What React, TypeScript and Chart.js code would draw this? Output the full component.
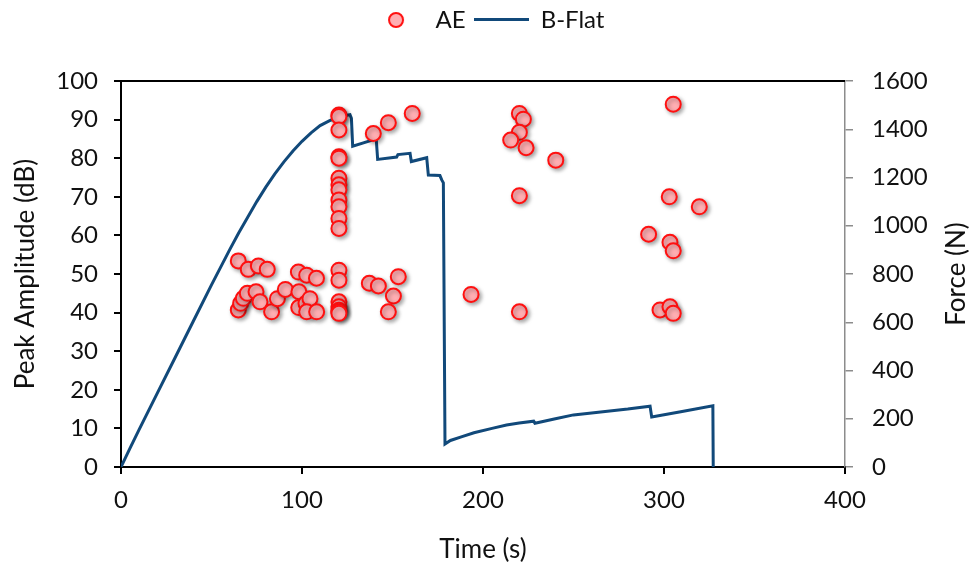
import React, { useEffect, useRef } from 'react';
import { Chart, registerables } from 'chart.js';

Chart.register(...registerables);

// ---- Data ----
const aeTime = [
  64.8, 70.3, 75.9, 80.8, 98.0, 102.6, 108.0,
  64.8, 66.1, 67.6, 69.8, 74.6, 76.8, 83.2, 86.4, 90.8, 98.3, 98.2, 102.2, 104.4, 102.6, 108.1,
  120.4, 120.4, 120.4, 120.4, 120.4, 120.4, 120.4, 120.4, 120.4, 120.4, 120.4, 120.4, 120.4, 120.4, 120.4, 120.4, 120.4, 120.4, 120.4,
  139.4, 147.7, 160.9, 137.2, 142.2, 153.2, 150.5, 147.7,
  193.4, 220.1, 222.3, 220.1, 215.3, 223.8, 240.2, 220.1, 220.1,
  305.1, 302.9, 319.5, 291.5, 303.3, 305.1, 297.8, 303.3, 305.1,
];
const aeAmp = [
  53.4, 51.2, 52.1, 51.2, 50.5, 49.7, 48.9,
  40.7, 42.4, 43.7, 45.0, 45.4, 42.8, 40.2, 43.6, 46.0, 45.4, 41.3, 42.4, 43.6, 40.2, 40.2,
  91.2, 90.8, 87.3, 80.4, 80.0, 74.8, 73.1, 71.8, 69.2, 67.4, 64.4, 61.8, 51.0, 48.4, 42.8, 41.5, 40.6, 40.2, 39.8,
  86.4, 89.2, 91.6, 47.6, 46.9, 49.3, 44.3, 40.2,
  44.7, 91.6, 90.1, 86.7, 84.7, 82.7, 79.5, 70.3, 40.2,
  94.0, 70.0, 67.4, 60.3, 58.2, 56.0, 40.7, 41.5, 39.8,
];

const forceTime = [
  0, 5, 10, 20, 30, 40, 50, 60, 65, 70, 75, 80, 85, 90, 95, 100, 105, 110, 115, 120, 124, 126.5,
  127.3, 128.0, 141.0, 141.8, 152.3, 153.0, 159.7, 160.4, 168.9, 169.8, 176.2, 177.2, 178.1,
  179.0, 182, 188, 195, 205, 213, 220, 228.0, 228.7, 240, 250, 265, 280, 292.3, 293.2, 310, 327.0, 327.2,
];
const forceN = [
  0, 78, 155, 305, 455, 605, 755, 900, 970, 1035, 1100, 1160, 1215, 1265, 1310, 1350, 1385, 1415, 1435, 1450, 1457, 1460,
  1445, 1330, 1360, 1275, 1285, 1295, 1300, 1266, 1282, 1210, 1208, 1190, 1178,
  95, 110, 125, 142, 160, 174, 182, 190, 181, 200, 216, 228, 240, 252, 207, 230, 254, 0,
];

const timeTicks = [0, 100, 200, 300, 400];
const ampTicks = [0, 10, 20, 30, 40, 50, 60, 70, 80, 90, 100];
const forceTicks = [0, 200, 400, 600, 800, 1000, 1200, 1400, 1600];

const seriesNames = ['AE', 'B-Flat'];
const axisTitles = { x: 'Time (s)', y: 'Peak Amplitude (dB)', y2: 'Force (N)' };

// ---- Styles ----
const FONT = 'Lato';
const TEXT = '#111111';
const LINE_COLOR = '#11497a';
const PT_FILL = '#ffaeb2';
const PT_BORDER = '#ff1010';

function makeCircleIcon() {
  const c = document.createElement('canvas');
  c.width = 18; c.height = 18;
  const g = c.getContext('2d')!;
  g.beginPath();
  g.arc(9, 9, 7, 0, Math.PI * 2);
  g.fillStyle = PT_FILL;
  g.fill();
  g.lineWidth = 2;
  g.strokeStyle = PT_BORDER;
  g.stroke();
  return c;
}
function makeLineIcon() {
  const c = document.createElement('canvas');
  c.width = 55; c.height = 4;
  const g = c.getContext('2d')!;
  g.fillStyle = LINE_COLOR;
  g.fillRect(0, 0, 55, 3);
  return c;
}

export default function App() {
  const ref = useRef<HTMLCanvasElement>(null);

  useEffect(() => {
    const circleIcon = makeCircleIcon();
    const lineIcon = makeLineIcon();

    const framePlugin = {
      id: 'frame',
      beforeLayout(chart: any) {
        const lg = chart.legend;
        if (lg && !lg.__patched) {
          const orig = lg.fit.bind(lg);
          lg.fit = () => { orig(); lg.height = 81; };
          lg.__patched = true;
        }
      },
      beforeDatasetDraw(chart: any, args: any) {
        if (args.index === 0) {
          const ctx = chart.ctx;
          ctx.save();
          ctx.shadowColor = 'rgba(0,0,0,0.35)';
          ctx.shadowBlur = 4;
          ctx.shadowOffsetX = 2;
          ctx.shadowOffsetY = 2;
        }
      },
      afterDatasetDraw(chart: any, args: any) {
        if (args.index === 0) chart.ctx.restore();
      },
      afterDraw(chart: any) {
        const { ctx, chartArea } = chart;
        ctx.save();
        ctx.strokeStyle = '#000';
        ctx.lineWidth = 2;
        ctx.beginPath();
        ctx.moveTo(chartArea.left - 1, chartArea.top);
        ctx.lineTo(chartArea.right, chartArea.top);
        ctx.stroke();
        // right axis title, reading bottom-to-top
        ctx.translate(957, (chartArea.top + chartArea.bottom) / 2);
        ctx.rotate(-Math.PI / 2);
        ctx.font = `26px ${FONT}`;
        ctx.fillStyle = TEXT;
        ctx.textAlign = 'center';
        ctx.textBaseline = 'middle';
        ctx.fillText(axisTitles.y2, 0, 0);
        ctx.restore();
      },
    };

    const chart = new Chart(ref.current!, {
      type: 'scatter',
      data: {
        datasets: [
          {
            type: 'scatter',
            label: seriesNames[0],
            data: aeTime.map((t, i) => ({ x: t, y: aeAmp[i] })),
            yAxisID: 'y',
            pointRadius: 7.5,
            pointHoverRadius: 7.5,
            pointStyle: 'circle',
            backgroundColor: PT_FILL,
            borderColor: PT_BORDER,
            borderWidth: 2,
          } as any,
          {
            type: 'line',
            label: seriesNames[1],
            data: forceTime.map((t, i) => ({ x: t, y: forceN[i] })),
            yAxisID: 'y2',
            borderColor: LINE_COLOR,
            backgroundColor: LINE_COLOR,
            borderWidth: 3,
            pointRadius: 0,
            pointHoverRadius: 0,
            tension: 0,
            fill: false,
            showLine: true,
          } as any,
        ],
      },
      options: {
        responsive: false,
        animation: false,
        devicePixelRatio: 1,
        layout: { padding: 0 },
        plugins: {
          tooltip: { enabled: false },
          legend: {
            display: true,
            position: 'top',
            labels: {
              usePointStyle: true,
              pointStyleWidth: 55,
              boxHeight: 10,
              padding: 8,
              color: TEXT,
              font: { family: FONT, size: 24 },
              generateLabels: (ch: any) =>
                ch.data.datasets.map((ds: any, i: number) => ({
                  text: ds.label,
                  datasetIndex: i,
                  pointStyle: i === 0 ? circleIcon : lineIcon,
                  fillStyle: ds.backgroundColor,
                  strokeStyle: ds.borderColor,
                  lineWidth: 0,
                  hidden: false,
                  fontColor: TEXT,
                })),
            },
          },
        },
        scales: {
          x: {
            type: 'linear',
            position: 'bottom',
            min: 0,
            max: 400,
            afterBuildTicks: (s: any) => { s.ticks = timeTicks.map((v) => ({ value: v })); },
            afterFit: (s: any) => { s.height = 100; },
            grid: { drawOnChartArea: false, drawTicks: true, tickLength: 7, color: '#000', lineWidth: 2 },
            border: { display: true, color: '#000', width: 2 },
            ticks: { color: TEXT, padding: 12, font: { family: FONT, size: 24 }, callback: (v: any) => String(v), maxRotation: 0 },
            title: { display: true, text: axisTitles.x, color: TEXT, font: { family: FONT, size: 26 }, padding: { top: 0, bottom: 2 } },
          },
          y: {
            type: 'linear',
            position: 'left',
            min: 0,
            max: 100,
            afterBuildTicks: (s: any) => { s.ticks = ampTicks.map((v) => ({ value: v })); },
            afterFit: (s: any) => { s.width = 121; },
            grid: { drawOnChartArea: false, drawTicks: true, tickLength: 7, color: '#000', lineWidth: 2 },
            border: { display: true, color: '#000', width: 2 },
            ticks: { color: TEXT, padding: 16, font: { family: FONT, size: 24 }, callback: (v: any) => String(v) },
            title: { display: true, text: axisTitles.y, color: TEXT, font: { family: FONT, size: 26 }, padding: { top: 10, bottom: 0 } },
          },
          y2: {
            type: 'linear',
            position: 'right',
            min: 0,
            max: 1600,
            afterBuildTicks: (s: any) => { s.ticks = forceTicks.map((v) => ({ value: v })); },
            afterFit: (s: any) => { s.width = 128; },
            grid: { drawOnChartArea: false, drawTicks: true, tickLength: 8, color: '#8c8c8c', lineWidth: 1.5 },
            border: { display: true, color: '#8c8c8c', width: 1.5 },
            ticks: { color: TEXT, padding: 19, font: { family: FONT, size: 24 }, callback: (v: any) => String(v) },
            title: { display: false },
          },
        },
      } as any,
      plugins: [framePlugin],
    });

    return () => chart.destroy();
  }, []);

  return (
    <div style={{ position: 'fixed', left: 0, top: 0, width: 973, height: 567, background: '#fff' }}>
      <canvas ref={ref} width={973} height={567} style={{ display: 'block', width: 973, height: 567 }} />
    </div>
  );
}
